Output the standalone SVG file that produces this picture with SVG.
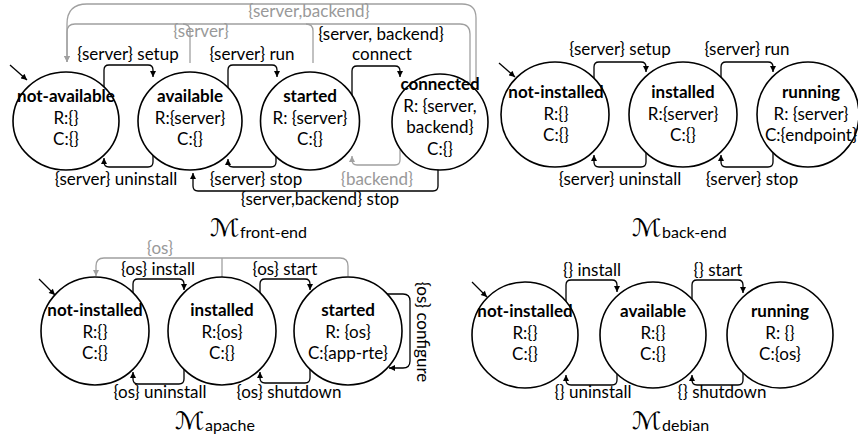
<svg xmlns="http://www.w3.org/2000/svg" width="858" height="441" viewBox="0 0 858 441">
<defs>
<style>
.n{fill:#fff;stroke:#000;stroke-width:1.6}
.t{font-family:Lato,"Liberation Sans",sans-serif;font-size:17px;text-anchor:middle;fill:#000}
.b{font-weight:bold}
.gt{fill:#999}
.c{fill:none;stroke:#000;stroke-width:1.3}
.cg{fill:none;stroke:#a0a0a0;stroke-width:1.3}
.m{font-family:"DejaVu Serif","DejaVu Sans",serif;font-size:24px;fill:#000}
.s{font-family:Lato,"Liberation Sans",sans-serif;font-size:16px;fill:#000}
</style>
<marker id="ah" viewBox="0 0 10 10" refX="10" refY="5" markerWidth="7" markerHeight="6" markerUnits="userSpaceOnUse" orient="auto"><path d="M0,0 L10,5 L0,10 z" fill="#000"/></marker>
<marker id="ahg" viewBox="0 0 10 10" refX="10" refY="5" markerWidth="7" markerHeight="6" markerUnits="userSpaceOnUse" orient="auto"><path d="M0,0 L10,5 L0,10 z" fill="#a0a0a0"/></marker>
</defs>
<rect x="0" y="0" width="858" height="441" fill="#fff"/>

<g id="connectors">
<!-- front-end -->
<path class="c" d="M10,65 L27,80" marker-end="url(#ah)"/>
<path class="c" d="M104,95 V70 Q104,65 109,65 H148 Q153,65 153,70 V77" marker-end="url(#ah)"/>
<path class="c" d="M153,150 V162 Q153,167 148,167 H109 Q104,167 104,162 V158" marker-end="url(#ah)"/>
<path class="c" d="M228,95 V70 Q228,65 233,65 H272 Q277,65 277,70 V77" marker-end="url(#ah)"/>
<path class="c" d="M276,150 V162 Q276,167 271,167 H233 Q228,167 228,162 V159" marker-end="url(#ah)"/>
<path class="c" d="M352,95 V71 Q352,66 357,66 H395 Q400,66 400,71 V77" marker-end="url(#ah)"/>
<path class="cg" d="M400,150 V160 Q400,165 395,165 H357 Q352,165 352,160 V156" marker-end="url(#ahg)"/>
<path class="c" d="M438,160 V186 Q438,191 433,191 H198 Q193,191 193,186 V173" marker-end="url(#ah)"/>
<path class="cg" d="M476,83 V18 Q476,4 462,4 H87 Q67,4 67,24 V62" marker-end="url(#ahg)"/>
<path class="cg" d="M470,83 V34 Q470,24 460,24 H75 Q67,24 67,32 V62" marker-end="url(#ahg)"/>
<path class="cg" d="M313,63 V31 Q313,24 306,24"/>
<path class="cg" d="M190,63 V31 Q190,24 183,24"/>
<!-- back-end -->
<path class="c" d="M499,63 L515,77" marker-end="url(#ah)"/>
<path class="c" d="M594,90 V67 Q594,62 599,62 H641 Q646,62 646,67 V72" marker-end="url(#ah)"/>
<path class="c" d="M646,140 V162 Q646,167 641,167 H599 Q594,167 594,162 V155" marker-end="url(#ah)"/>
<path class="c" d="M721,90 V67 Q721,62 726,62 H768 Q773,62 773,67 V72" marker-end="url(#ah)"/>
<path class="c" d="M773,140 V162 Q773,167 768,167 H726 Q721,167 721,162 V155" marker-end="url(#ah)"/>
<!-- apache -->
<path class="c" d="M39,279 L55,295" marker-end="url(#ah)"/>
<path class="c" d="M133,300 V284 Q133,279 138,279 H179 Q184,279 184,284 V290" marker-end="url(#ah)"/>
<path class="c" d="M184,362 V379 Q184,384 179,384 H138 Q133,384 133,379 V372" marker-end="url(#ah)"/>
<path class="c" d="M260,300 V284 Q260,279 265,279 H305 Q310,279 310,284 V290" marker-end="url(#ah)"/>
<path class="c" d="M310,362 V378 Q310,383 305,383 H265 Q260,383 260,378 V372" marker-end="url(#ah)"/>
<path class="cg" d="M348,276 V266 Q348,258 340,258 H104 Q96,258 96,266 V276" marker-end="url(#ahg)"/>
<path class="cg" d="M222,277 V258"/>
<path class="c" d="M380,294 H403 Q410,294 410,301 V361 Q410,368 403,368 H389" marker-end="url(#ah)"/>
<!-- debian -->
<path class="c" d="M472,282 L487,297" marker-end="url(#ah)"/>
<path class="c" d="M566,310 V285 Q566,280 571,280 H612 Q617,280 617,285 V292" marker-end="url(#ah)"/>
<path class="c" d="M617,365 V380 Q617,385 612,385 H571 Q566,385 566,380 V375" marker-end="url(#ah)"/>
<path class="c" d="M692,310 V285 Q692,280 697,280 H738 Q743,280 743,285 V293" marker-end="url(#ah)"/>
<path class="c" d="M743,365 V380 Q743,385 738,385 H697 Q692,385 692,380 V375" marker-end="url(#ah)"/>
</g>

<g id="connector-labels">
<text class="t" x="128" y="60">{server} setup</text>
<text class="t" x="252" y="60">{server} run</text>
<text class="t" x="381" y="40">{server, backend}</text>
<text class="t" x="382" y="60">connect</text>
<text class="t gt" x="309" y="17">{server,backend}</text>
<text class="t gt" x="201" y="37">{server}</text>
<text class="t" x="116" y="185">{server} uninstall</text>
<text class="t" x="256" y="185">{server} stop</text>
<text class="t gt" x="377" y="185">{backend}</text>
<text class="t" x="320" y="205">{server,backend} stop</text>

<text class="t" x="620" y="55">{server} setup</text>
<text class="t" x="747" y="55">{server} run</text>
<text class="t" x="620" y="185">{server} uninstall</text>
<text class="t" x="752" y="185">{server} stop</text>

<text class="t gt" x="160" y="254">{os}</text>
<text class="t" x="158" y="275">{os} install</text>
<text class="t" x="285" y="275">{os} start</text>
<text class="t" x="160" y="398">{os} uninstall</text>
<text class="t" x="289" y="398">{os} shutdown</text>
<text class="t" transform="translate(417,332) rotate(90)">{os} configure</text>

<text class="t" x="592" y="276">{} install</text>
<text class="t" x="718" y="276">{} start</text>
<text class="t" x="593" y="398">{} uninstall</text>
<text class="t" x="722" y="398">{} shutdown</text>
</g>

<g id="fe-not-available">
<ellipse class="n" cx="66" cy="121" rx="53" ry="49"/>
<text class="t b" x="66" y="102">not-available</text>
<text class="t" x="66" y="124">R:{}</text>
<text class="t" x="66" y="145">C:{}</text>
</g>
<g id="fe-available">
<ellipse class="n" cx="190" cy="121" rx="52" ry="49"/>
<text class="t b" x="190" y="102">available</text>
<text class="t" x="190" y="124">R:{server}</text>
<text class="t" x="190" y="145">C:{}</text>
</g>
<g id="fe-started">
<ellipse class="n" cx="310" cy="121" rx="49.5" ry="49"/>
<text class="t b" x="310" y="102">started</text>
<text class="t" x="310" y="124">R: {server}</text>
<text class="t" x="310" y="145">C:{}</text>
</g>
<g id="fe-connected">
<ellipse class="n" cx="440" cy="122" rx="48" ry="48"/>
<text class="t b" x="440" y="90">connected</text>
<text class="t" x="440" y="112">R: {server,</text>
<text class="t" x="440" y="133">backend}</text>
<text class="t" x="440" y="155">C:{}</text>
</g>

<g id="be-not-installed">
<ellipse class="n" cx="555" cy="114.5" rx="54" ry="52.5"/>
<text class="t b" x="556" y="98">not-installed</text>
<text class="t" x="556" y="120">R:{}</text>
<text class="t" x="556" y="141">C:{}</text>
</g>
<g id="be-installed">
<ellipse class="n" cx="683" cy="114.5" rx="54" ry="52.5"/>
<text class="t b" x="683" y="98">installed</text>
<text class="t" x="683" y="120">R:{server}</text>
<text class="t" x="683" y="141">C:{}</text>
</g>
<g id="be-running">
<ellipse class="n" cx="808" cy="114.5" rx="51" ry="52.5"/>
<text class="t b" x="811" y="98">running</text>
<text class="t" x="811" y="120">R: {server}</text>
<text class="t" x="811" y="141">C:{endpoint}</text>
</g>

<g id="ap-not-installed">
<ellipse class="n" cx="95" cy="331" rx="54" ry="54"/>
<text class="t b" x="95" y="316">not-installed</text>
<text class="t" x="95" y="338">R:{}</text>
<text class="t" x="95" y="359">C:{}</text>
</g>
<g id="ap-installed">
<ellipse class="n" cx="222" cy="331" rx="54" ry="54"/>
<text class="t b" x="222" y="316">installed</text>
<text class="t" x="222" y="338">R:{os}</text>
<text class="t" x="222" y="359">C:{}</text>
</g>
<g id="ap-started">
<ellipse class="n" cx="348" cy="331" rx="54" ry="54"/>
<text class="t b" x="348" y="316">started</text>
<text class="t" x="348" y="338">R: {os}</text>
<text class="t" x="348" y="359">C:{app-rte}</text>
</g>

<g id="de-not-installed">
<ellipse class="n" cx="525" cy="335" rx="53" ry="53"/>
<text class="t b" x="525" y="317">not-installed</text>
<text class="t" x="525" y="339">R:{}</text>
<text class="t" x="525" y="360">C:{}</text>
</g>
<g id="de-available">
<ellipse class="n" cx="653" cy="335" rx="53" ry="53"/>
<text class="t b" x="653" y="317">available</text>
<text class="t" x="653" y="339">R:{}</text>
<text class="t" x="653" y="360">C:{}</text>
</g>
<g id="de-running">
<ellipse class="n" cx="780" cy="335" rx="53" ry="53"/>
<text class="t b" x="780" y="317">running</text>
<text class="t" x="780" y="339">R: {}</text>
<text class="t" x="780" y="360">C:{os}</text>
</g>

<g id="titles">
<text class="m" transform="translate(210,236) scale(1.15,1)">ℳ</text>
<text class="s" x="240" y="238">front-end</text>
<text class="m" transform="translate(632,236) scale(1.15,1)">ℳ</text>
<text class="s" x="662" y="238">back-end</text>
<text class="m" transform="translate(175,429) scale(1.15,1)">ℳ</text>
<text class="s" x="205" y="431">apache</text>
<text class="m" transform="translate(632,429) scale(1.15,1)">ℳ</text>
<text class="s" x="662" y="431">debian</text>
</g>
</svg>
